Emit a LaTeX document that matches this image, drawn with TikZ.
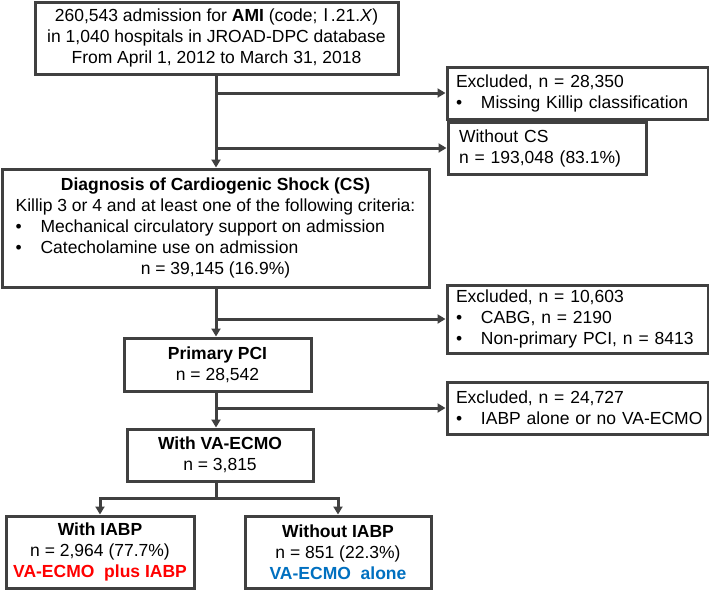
\documentclass[tikz,border=0pt]{standalone}
\usepackage{fontspec}
\setmainfont{Liberation Sans}
\newfontfamily\cjkfont{Noto Sans CJK JP}
\usetikzlibrary{arrows.meta}
\definecolor{lc}{HTML}{404040}
\definecolor{myred}{HTML}{FF0000}
\definecolor{myblue}{HTML}{0070C0}
\newcommand\mybul[1]{\mbox{\makebox[25pt][l]{•}#1}}
\begin{document}
\begin{tikzpicture}[x=1pt,y=-1pt,
  box/.style={draw=lc, line width=3pt, fill=white, inner sep=0pt, font=\fontsize{17.5}{21}\selectfont},
  cbox/.style={box, align=center},
  lbox/.style={box, align=left, text width=#1},
  arr/.style={draw=lc, line width=3pt, -{Triangle[length=8pt,width=9pt]}},
  link/.style={draw=lc, line width=3pt}]
\useasboundingbox (0,0) rectangle (709,590);
\fill[white] (0,0) rectangle (709,590);
\coordinate (sp) at (216,0);

\node[cbox, minimum width=363pt, minimum height=72pt] (b1) at (216.5,38)
  {260,543 admission for \textbf{AMI} (code;{\cjkfont Ⅰ}\kern-4pt.21.\textit{X})\\in 1,040 hospitals in JROAD-DPC database\\From April 1, 2012 to March 31, 2018};

\node[lbox=243pt, minimum width=261pt, minimum height=52pt] (ex1) at (577.5,93)
  {Excluded, n = 28,350\\\mybul{Missing Killip classification}};

\node[lbox=176pt, minimum width=198pt, minimum height=52pt] (nocs) at (547,148)
  {Without CS\\n = 193,048 (83.1\%)};

\node[box, minimum width=427pt, minimum height=118pt] (cs) at (215.5,228)
  {\begin{tabular}{@{}l@{}}
   \multicolumn{1}{@{}c@{}}{\textbf{Diagnosis of Cardiogenic Shock (CS)}}\\
   Killip 3 or 4 and at least one of the following criteria:\\
   \mybul{Mechanical circulatory support on admission}\\
   \mybul{Catecholamine use on admission}\\
   \multicolumn{1}{@{}c@{}}{n = 39,145 (16.9\%)}
   \end{tabular}};

\node[lbox=243pt, minimum width=261pt, minimum height=68pt] (ex2) at (577.5,319)
  {Excluded, n = 10,603\\\mybul{CABG, n = 2190}\\\mybul{Non-primary PCI, n = 8413}};

\node[cbox, minimum width=187pt, minimum height=53pt] (pci) at (217.5,364.5)
  {\textbf{Primary PCI}\\n = 28,542};

\node[lbox=243pt, minimum width=261pt, minimum height=52pt] (ex3) at (577.5,408)
  {Excluded, n = 24,727\\\mybul{IABP alone or no VA-ECMO}};

\node[cbox, minimum width=186pt, minimum height=52pt] (va) at (220,455)
  {\textbf{With VA-ECMO}\\n = 3,815};

\node[cbox, minimum width=188pt, minimum height=72pt] (wi) at (100,552)
  {\textbf{With IABP}\\n = 2,964 (77.7\%)\\\textcolor{myred}{\textbf{VA-ECMO\ \ plus IABP}}};

\node[cbox, minimum width=186pt, minimum height=72pt] (wo) at (338,552)
  {\textbf{Without IABP}\\n = 851 (22.3\%)\\\textcolor{myblue}{\textbf{VA-ECMO\ \ alone}}};

\draw[arr] (b1.south -| sp) -- (cs.north -| sp);
\draw[arr] (sp |- ex1.west) -- (ex1.west);
\draw[arr] (sp |- nocs.west) -- (nocs.west);
\draw[arr] (cs.south -| sp) -- (pci.north -| sp);
\draw[arr] (sp |- ex2.west) -- (ex2.west);
\draw[arr] (pci.south -| sp) -- (va.north -| sp);
\draw[arr] (sp |- ex3.west) -- (ex3.west);
\draw[link] (va.south -| sp) -- ++(0,16) coordinate (split);
\draw[arr] (split) -| (wi.north);
\draw[arr] (split) -| (wo.north);
\end{tikzpicture}
\end{document}
